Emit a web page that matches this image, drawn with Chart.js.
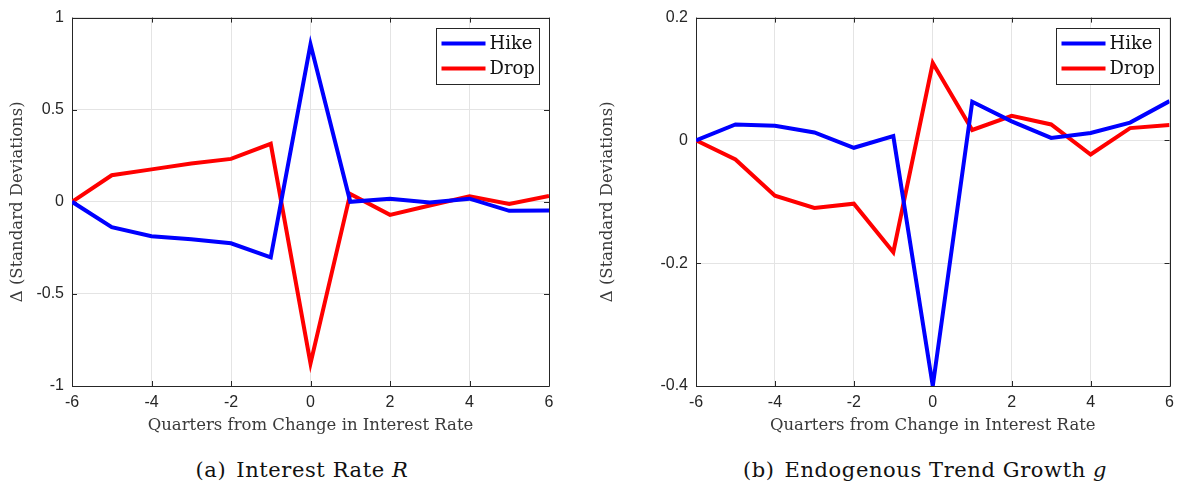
<!DOCTYPE html>
<html>
<head>
<meta charset="utf-8">
<script src="https://cdn.jsdelivr.net/npm/chart.js@4"></script>
<style>
  html, body { margin: 0; padding: 0; background: #ffffff; }
  body { width: 1181px; height: 489px; position: relative; overflow: hidden; }
  .panel { position: absolute; top: 0; height: 440px; }
  .panel canvas { display: block; }
  .caption {
    position: absolute; top: 457px; transform: translateX(-50%);
    font-family: "DejaVu Serif", serif; font-size: 21px; letter-spacing: 0.6px;
    color: #111; white-space: nowrap; line-height: 26px;
  }
  .caption .tag { margin-right: 10px; }
  .caption i { font-style: italic; }
</style>
</head>
<body>
<div class="panel" id="panelA" style="left:0; width:590px;"><canvas id="chartA" width="590" height="440"></canvas></div>
<div class="panel" id="panelB" style="left:590px; width:591px;"><canvas id="chartB" width="591" height="440"></canvas></div>
<div class="caption" style="left:302px;"><span class="tag">(a)</span>Interest Rate <i>R</i></div>
<div class="caption" style="left:925px;"><span class="tag">(b)</span>Endogenous Trend Growth <i>g</i></div>

<script>
// Quarters relative to the change in the interest rate
const quarters = [-6, -5, -4, -3, -2, -1, 0, 1, 2, 3, 4, 5, 6];
const xTicks = [-6, -4, -2, 0, 2, 4, 6];

// Panel (a): interest rate R, in standard deviations
const rateHike = [0, -0.138, -0.187, -0.203, -0.225, -0.302, 0.855, 0.0, 0.017, -0.004, 0.017, -0.049, -0.047];
const rateDrop = [0, 0.144, 0.176, 0.208, 0.233, 0.315, -0.877, 0.043, -0.071, -0.02, 0.03, -0.012, 0.032];
const rateTicks = [-1, -0.5, 0, 0.5, 1];
const rateTickLabels = ['-1', '-0.5', '0', '0.5', '1'];

// Panel (b): endogenous trend growth g, in standard deviations
const growthHike = [0, 0.026, 0.024, 0.013, -0.012, 0.007, -0.4, 0.063, 0.031, 0.004, 0.012, 0.029, 0.064];
const growthDrop = [0, -0.031, -0.09, -0.11, -0.103, -0.182, 0.126, 0.017, 0.040, 0.026, -0.023, 0.020, 0.025];
const growthTicks = [-0.4, -0.2, 0, 0.2];
const growthTickLabels = ['-0.4', '-0.2', '0', '0.2'];

const seriesNames = ['Hike', 'Drop'];
const seriesColors = ['#0000ff', '#ff0000'];

const AXIS_COLOR = '#262626';
const GRID_COLOR = '#e4e4e4';
const TICK_FONT = { family: '"Liberation Sans", Arial, sans-serif', size: 16 };
const TITLE_FONT = { family: '"DejaVu Serif", serif', size: 16.5 };
const LEGEND_FONT = '18px "DejaVu Serif", serif';

// Box outline, inward tick marks on all four sides, and the in-plot legend
const boxPlugin = {
  id: 'matlabBox',
  beforeDatasetsDraw(chart) {
    const { ctx, chartArea: a, scales } = chart;
    const len = 5;
    ctx.save();
    ctx.strokeStyle = AXIS_COLOR;
    ctx.lineWidth = 1;
    ctx.beginPath();
    scales.x.ticks.forEach(t => {
      const px = Math.round(scales.x.getPixelForValue(t.value)) + 0.5;
      ctx.moveTo(px, a.bottom); ctx.lineTo(px, a.bottom - len);
      ctx.moveTo(px, a.top); ctx.lineTo(px, a.top + len);
    });
    scales.y.ticks.forEach(t => {
      const py = Math.round(scales.y.getPixelForValue(t.value)) + 0.5;
      ctx.moveTo(a.left, py); ctx.lineTo(a.left + len, py);
      ctx.moveTo(a.right, py); ctx.lineTo(a.right - len, py);
    });
    ctx.stroke();
    ctx.beginPath();
    ctx.rect(Math.round(a.left) + 0.5, Math.round(a.top) + 0.5,
             Math.round(a.right - a.left), Math.round(a.bottom - a.top));
    ctx.stroke();
    ctx.restore();
  },
  afterDatasetsDraw(chart, args, opts) {
    const { ctx, chartArea: a } = chart;
    const w = 103, h = 56;
    const left = Math.round(a.right - opts.rightGap - w) + 0.5;
    const top = Math.round(a.top + 10) + 0.5;
    ctx.save();
    ctx.fillStyle = '#ffffff';
    ctx.fillRect(left, top, w, h);
    ctx.strokeStyle = AXIS_COLOR;
    ctx.lineWidth = 1;
    ctx.strokeRect(left, top, w, h);
    ctx.font = LEGEND_FONT;
    ctx.textBaseline = 'middle';
    ctx.textAlign = 'left';
    chart.data.datasets.forEach((ds, i) => {
      const cy = top + 15 + i * 25;
      ctx.strokeStyle = ds.borderColor;
      ctx.lineWidth = 4;
      ctx.beginPath();
      ctx.moveTo(left + 5, cy);
      ctx.lineTo(left + 49, cy);
      ctx.stroke();
      ctx.fillStyle = '#111111';
      ctx.fillText(ds.label, left + 53, cy + 1);
    });
    ctx.restore();
  }
};

function makeChart(canvasId, hike, drop, yTicks, yLabels, yMin, yMax, yAxisWidth, rightPad, legendGap) {
  const series = [hike, drop];
  return new Chart(document.getElementById(canvasId), {
    type: 'line',
    data: {
      datasets: series.map((vals, s) => ({
        label: seriesNames[s],
        data: quarters.map((q, i) => ({ x: q, y: vals[i] })),
        borderColor: seriesColors[s],
        backgroundColor: seriesColors[s],
        borderWidth: 4,
        pointRadius: 0,
        tension: 0,
        fill: false
      }))
    },
    options: {
      responsive: false,
      animation: false,
      events: [],
      layout: { padding: { top: 13, right: rightPad, bottom: 0, left: 0 } },
      plugins: {
        legend: { display: false },
        tooltip: { enabled: false },
        matlabBox: { rightGap: legendGap }
      },
      scales: {
        x: {
          type: 'linear',
          min: quarters[0],
          max: quarters[quarters.length - 1],
          afterBuildTicks: sc => { sc.ticks = xTicks.map(v => ({ value: v })); },
          afterFit: sc => { sc.height = 54; },
          ticks: {
            color: AXIS_COLOR, font: TICK_FONT, padding: 7, maxRotation: 0,
            callback: v => String(v)
          },
          grid: { color: GRID_COLOR, drawTicks: false },
          border: { display: false },
          title: {
            display: true, text: 'Quarters from Change in Interest Rate',
            color: '#3a3a3a', font: TITLE_FONT, padding: { top: 0, bottom: 4 }
          }
        },
        y: {
          type: 'linear',
          min: yMin,
          max: yMax,
          afterBuildTicks: sc => { sc.ticks = yTicks.map(v => ({ value: v })); },
          afterFit: sc => { sc.width = yAxisWidth; },
          ticks: {
            color: AXIS_COLOR, font: TICK_FONT, padding: 8,
            callback: v => yLabels[yTicks.indexOf(v)]
          },
          grid: { color: GRID_COLOR, drawTicks: false },
          border: { display: false },
          title: {
            display: true, text: 'Δ (Standard Deviations)',
            color: '#3a3a3a', font: TITLE_FONT, padding: { top: 8, bottom: 0 }
          }
        }
      }
    },
    plugins: [boxPlugin]
  });
}

makeChart('chartA', rateHike, rateDrop, rateTicks, rateTickLabels, -1, 1, 72, 41, 10);
makeChart('chartB', growthHike, growthDrop, growthTicks, growthTickLabels, -0.4, 0.2, 106, 7, 11);
</script>
</body>
</html>
